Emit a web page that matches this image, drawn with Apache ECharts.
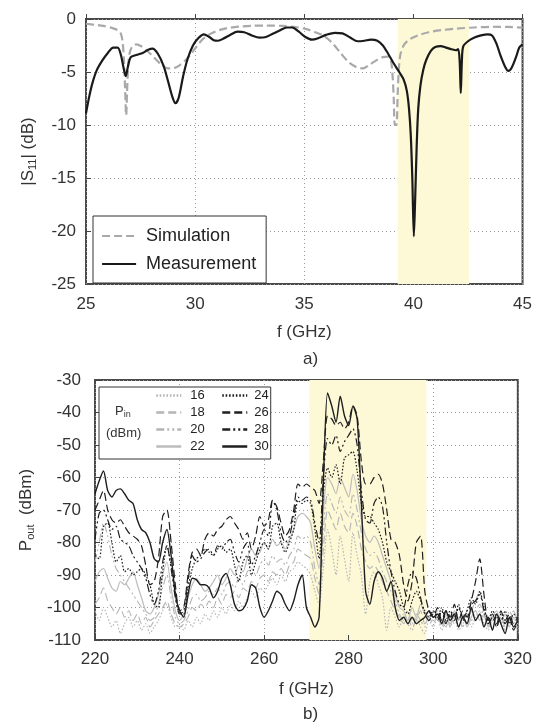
<!DOCTYPE html>
<html><head><meta charset="utf-8">
<script src="https://cdn.jsdelivr.net/npm/echarts@6/dist/echarts.min.js"></script>
<style>html,body{margin:0;padding:0;background:#fff}#c{width:535px;height:724px}</style>
</head><body><div id="c"></div>
<script>
// ---------- (a) |S11| ----------
const measF = [25.0,25.15,25.3,25.5,25.75,26.0,26.25,26.45,26.6,26.72,26.82,26.92,27.05,27.3,27.6,27.85,28.05,28.3,28.55,28.75,28.95,29.1,29.25,29.45,29.65,29.9,30.15,30.4,30.65,30.85,31.05,31.3,31.6,31.95,32.25,32.6,32.95,33.2,33.55,33.9,34.2,34.45,34.75,35.05,35.35,35.65,36.0,36.4,36.75,37.1,37.45,37.75,38.05,38.35,38.6,38.85,39.1,39.35,39.55,39.7,39.8,39.88,39.95,40.02,40.08,40.15,40.22,40.32,40.45,40.6,40.8,41.0,41.25,41.5,41.75,41.95,42.05,42.12,42.17,42.22,42.28,42.5,42.8,43.1,43.4,43.6,43.8,44.0,44.2,44.35,44.5,44.7,44.85,45.0];
const measV = [-8.9,-7.3,-6.0,-4.8,-3.9,-3.2,-2.7,-2.7,-3.4,-4.6,-5.4,-4.5,-3.6,-3.4,-3.2,-2.9,-2.8,-3.3,-4.4,-5.8,-7.3,-7.95,-7.4,-5.4,-3.8,-2.5,-1.8,-1.45,-1.7,-2.0,-2.05,-1.85,-1.5,-1.2,-1.25,-1.55,-1.75,-1.72,-1.4,-1.05,-0.8,-0.8,-1.2,-1.7,-1.95,-1.8,-1.5,-1.3,-1.35,-1.75,-2.1,-2.05,-1.95,-2.05,-2.5,-3.3,-4.2,-5.0,-5.7,-6.8,-8.5,-11,-15,-20.5,-17,-12,-8.5,-6.3,-4.8,-3.8,-3.0,-2.65,-2.55,-2.7,-2.85,-2.95,-2.85,-4.0,-7.0,-4.0,-2.6,-2.1,-1.75,-1.55,-1.45,-1.55,-2.3,-3.5,-4.5,-4.9,-4.6,-3.6,-2.7,-2.4];
const simF = [25.0,25.4,25.8,26.2,26.45,26.6,26.68,26.74,26.79,26.84,26.88,26.93,27.0,27.12,27.3,27.55,27.8,28.1,28.45,28.75,29.0,29.3,29.6,29.85,30.1,30.35,30.7,31.1,31.5,32.0,32.6,33.3,34.0,34.6,35.1,35.5,35.9,36.3,36.7,37.05,37.4,37.7,38.0,38.3,38.6,38.85,38.97,39.05,39.1,39.15,39.22,39.28,39.33,39.4,39.55,39.8,40.2,40.7,41.3,42.0,42.8,43.6,44.3,45.0];
const simV = [-0.45,-0.55,-0.65,-0.85,-1.05,-1.4,-2.2,-4.0,-6.5,-9.1,-7.0,-4.5,-3.2,-2.6,-2.4,-2.6,-3.0,-3.6,-4.3,-4.65,-4.65,-4.35,-3.8,-3.2,-2.5,-1.9,-1.4,-1.05,-0.85,-0.72,-0.64,-0.62,-0.65,-0.76,-0.95,-1.25,-1.6,-2.3,-3.3,-4.1,-4.55,-4.65,-4.3,-3.9,-3.6,-3.55,-3.9,-5.5,-7.6,-10.0,-10.0,-7.0,-4.8,-3.4,-2.5,-1.95,-1.55,-1.25,-1.05,-0.9,-0.8,-0.73,-0.75,-0.82];
const bandA = [39.28, 42.55];

// ---------- (b) Pout ----------
const freqs = [220,221,222,223,224,225,226,227,228,229,230,231,232,233,234,235,236,237,238,239,240,241,242,243,244,245,246,247,248,249,250,251,252,253,254,255,256,257,258,259,260,261,262,263,264,265,266,267,268,269,270,271,272,273,274,275,276,277,278,279,280,281,282,283,284,285,286,287,288,289,290,291,292,293,294,295,296,297,298,299,300,301,302,303,304,305,306,307,308,309,310,311,312,313,314,315,316,317,318,319,320];
const p16 = [-101,-104,-100,-103,-106,-104,-108,-105,-103,-106,
 -104,-107,-105,-108,-106,-104,-101,-99,-103,-106,
 -105,-107,-104,-106,-103,-105,-102,-104,-101,-103,
 -100,-102,-99,-101,-98,-100,-97,-95,-97,-94,
 -95,-93,-91,-93,-90,-92,-89,-88,-86,-87,
 -88,-90,-95,-99,-88,-76,-82,-90,-78,-85,
 -92,-77,-84,-90,-102,-92,-89,-93,-97,-107,
 -100,-103,-106,-102,-105,-107,-103,-106,-108,-104,
 -106,-103,-107,-104,-106,-103,-107,-105,-102,-106,
 -103,-101,-105,-107,-104,-106,-103,-107,-105,-103,-107];
const p18 = [-99,-97,-94,-98,-100,-102,-100,-103,-101,-104,
 -102,-105,-103,-106,-104,-102,-100,-98,-102,-105,
 -106,-105,-103,-100,-101,-99,-100,-98,-100,-97,
 -99,-96,-97,-95,-97,-94,-95,-92,-94,-91,
 -90,-92,-89,-90,-88,-90,-87,-86,-82,-83,
 -84,-85,-91,-96,-82,-70,-73,-76,-71,-75,
 -77,-71,-75,-82,-86,-88,-87,-89,-92,-95,
 -98,-101,-103,-105,-103,-106,-104,-101,-105,-103,
 -105,-102,-106,-103,-105,-102,-106,-103,-105,-101,
 -98,-95,-102,-106,-103,-105,-102,-106,-104,-101,-105];
const p20 = [-86,-80,-74,-78,-84,-88,-90,-92,-94,-96,
 -98,-100,-102,-104,-103,-99,-94,-90,-97,-103,
 -105,-104,-101,-97,-96,-98,-97,-95,-96,-94,
 -96,-93,-92,-94,-91,-93,-89,-88,-90,-87,
 -85,-87,-84,-86,-85,-87,-84,-82,-78,-79,
 -78,-80,-88,-93,-76,-65,-68,-71,-66,-70,
 -72,-65,-70,-77,-82,-84,-83,-85,-89,-92,
 -95,-98,-102,-104,-101,-105,-102,-104,-106,-102,
 -104,-101,-104,-106,-102,-105,-103,-106,-102,-104,
 -101,-99,-103,-105,-102,-106,-103,-105,-101,-104,-106];
const p22 = [-92,-89,-88,-91,-94,-95,-92,-93,-91,-89,
 -93,-97,-101,-102,-100,-96,-90,-86,-94,-101,
 -104,-102,-97,-93,-91,-93,-95,-94,-92,-90,
 -93,-91,-88,-90,-87,-89,-85,-82,-84,-83,
 -80,-82,-79,-81,-80,-82,-79,-76,-72,-71,
 -72,-74,-82,-88,-70,-60,-62,-65,-60,-63,
 -66,-59,-64,-73,-78,-80,-78,-80,-84,-88,
 -92,-96,-100,-101,-104,-100,-103,-99,-102,-104,
 -101,-103,-105,-102,-106,-101,-104,-102,-106,-103,
 -101,-104,-102,-106,-103,-101,-105,-102,-106,-103,-105];
const p24 = [-84,-85,-75,-74,-80,-86,-84,-89,-88,-90,
 -89,-88,-90,-93,-99,-100,-89,-81,-87,-95,
 -102,-102,-94,-88,-85,-84,-82,-83,-84,-82,
 -81,-83,-82,-87,-92,-86,-84,-90,-86,-82,
 -80,-82,-75,-74,-80,-83,-80,-76,-67,-68,
 -67,-68,-76,-85,-65,-57,-60,-56,-62,-54,
 -53,-52,-58,-68,-72,-72,-74,-76,-80,-86,
 -89,-92,-95,-100,-102,-98,-95,-98,-101,-103,
 -101,-103,-100,-104,-101,-103,-99,-104,-101,-97,
 -99,-95,-100,-104,-101,-103,-104,-101,-105,-102,-104];
const p26 = [-70,-67,-64,-70,-73,-74,-73,-75,-77,-78,
 -79,-81,-87,-93,-92,-85,-72,-70,-80,-93,
 -101,-100,-90,-83,-82,-84,-79,-77,-78,-76,
 -75,-73,-72,-74,-76,-79,-77,-82,-78,-72,
 -75,-73,-67,-69,-74,-78,-76,-70,-62,-63,
 -62,-63,-64,-68,-55,-41,-42,-44,-43,-45,
 -43,-38,-41,-55,-62,-62,-60,-59,-62,-70,
 -79,-80,-84,-93,-98,-92,-80,-78,-95,-101,
 -103,-100,-104,-101,-103,-99,-104,-101,-103,-98,
 -92,-85,-96,-104,-102,-105,-101,-104,-102,-105,-103];
const p28 = [-79,-71,-70,-73,-76,-75,-79,-80,-81,-84,
 -86,-88,-91,-96,-99,-95,-86,-81,-88,-97,
 -102,-101,-92,-84,-86,-85,-83,-82,-84,-81,
 -82,-80,-79,-83,-86,-82,-80,-87,-84,-80,
 -76,-78,-67,-70,-77,-80,-78,-72,-66,-67,
 -66,-67,-74,-80,-60,-48,-50,-47,-52,-49,
 -47,-45,-50,-64,-73,-74,-68,-66,-69,-80,
 -89,-95,-99,-100,-93,-89,-91,-97,-102,-104,
 -102,-104,-101,-105,-102,-104,-100,-103,-101,-99,
 -98,-96,-101,-105,-103,-106,-102,-105,-103,-107,-104];
const p30 = [-65,-61,-58,-64,-66,-64,-63.5,-65,-67,-68,
 -73,-76,-77,-80,-85,-86,-80,-76,-84,-96,
 -101,-103,-96,-91,-91.5,-93,-93,-94,-97,-95,
 -91,-89.5,-93,-99,-101,-100.5,-98,-93,-94,-100,
 -103,-101,-98,-95,-96,-99,-101,-98,-93,-90,
 -100,-103,-106,-103,-62,-34,-38,-43,-35,-41,
 -44,-38,-42,-68,-95,-99,-92,-89,-91,-95,
 -92,-100,-104,-103,-105,-103,-105,-104,-103,-101,
 -103,-102,-105,-101,-104,-102,-106,-103,-105,-100,
 -104,-102,-106,-103,-107,-102,-105,-108,-103,-106,-104];
const pinLabels = ['16','18','20','22','24','26','28','30'];
const bandB = [270.7, 298.4];

const FONT = "'Liberation Sans', Arial, Helvetica, sans-serif";
const TXT = '#333';
const GRIDC = '#9a9a9a';
const SHADE = '#fdf8d6';
const LIGHT = '#b4b4b4', DARK = '#1e1e1e';
const DASH = [8,4], DOT = [1.6,1.8], DASHDOT = [8,3,2,3,2,3];
const NOSYM = 'rgba(0,0,0,0)';

const styles = {
  '16': {color: LIGHT, type: DOT, width: 1.1},
  '18': {color: LIGHT, type: DASH, width: 1.1},
  '20': {color: LIGHT, type: DASHDOT, width: 1.1},
  '22': {color: '#bcbcbc', type: 'solid', width: 1.2},
  '24': {color: DARK, type: DOT, width: 1.2},
  '26': {color: DARK, type: DASH, width: 1.2},
  '28': {color: DARK, type: DASHDOT, width: 1.2},
  '30': {color: DARK, type: 'solid', width: 1.4}
};
const pSeries = {'16': p16, '18': p18, '20': p20, '22': p22, '24': p24, '26': p26, '28': p28, '30': p30};

function axisCommon(extra) {
  return Object.assign({
    type: 'value', z: 1,
    axisLine: {show: false},
    axisTick: {show: true, inside: true, length: 5, lineStyle: {color: '#444', width: 1}},
    splitLine: {show: true, lineStyle: {type: [1, 3], color: GRIDC, width: 1}},
    nameLocation: 'middle',
    nameTextStyle: {fontSize: 17, color: TXT, fontFamily: FONT,
      rich: {sub: {fontSize: 11, color: TXT, fontFamily: FONT, padding: [8, 0, 0, 0]}}}
  }, extra);
}
const lbl = (m) => ({margin: m, fontSize: 17, color: TXT, fontFamily: FONT});

const series = [];
series.push({type: 'line', xAxisIndex: 0, yAxisIndex: 0, data: [], z: 0, silent: true,
  markArea: {silent: true, itemStyle: {color: SHADE}, data: [[{xAxis: bandA[0]}, {xAxis: bandA[1]}]]}});
series.push({name: 'Simulation', type: 'line', xAxisIndex: 0, yAxisIndex: 0, symbol: 'none', smooth: 0.3, z: 2,
  lineStyle: {color: '#a9a9a9', width: 2.2, type: DASH}, itemStyle: {color: NOSYM, borderColor: NOSYM},
  data: simF.map((f, i) => [f, simV[i]])});
series.push({name: 'Measurement', type: 'line', xAxisIndex: 0, yAxisIndex: 0, symbol: 'none', smooth: 0.3, z: 3,
  lineStyle: {color: '#1a1a1a', width: 2.2}, itemStyle: {color: NOSYM, borderColor: NOSYM},
  data: measF.map((f, i) => [f, measV[i]])});
series.push({type: 'line', xAxisIndex: 1, yAxisIndex: 1, data: [], z: 0, silent: true,
  markArea: {silent: true, itemStyle: {color: SHADE}, data: [[{xAxis: bandB[0]}, {xAxis: bandB[1]}]]}});
pinLabels.forEach((k, idx) => {
  const s = styles[k];
  series.push({name: k, type: 'line', xAxisIndex: 1, yAxisIndex: 1, symbol: 'none', smooth: 0.25, z: 2 + idx * 0.01,
    lineStyle: {color: s.color, width: s.width, type: s.type}, itemStyle: {color: NOSYM, borderColor: NOSYM},
    data: freqs.map((f, i) => [f, pSeries[k][i]])});
});

const legendSym = {color: NOSYM, borderColor: NOSYM, borderWidth: 0};
const option = {
  animation: false,
  backgroundColor: '#fff',
  textStyle: {fontFamily: FONT},
  title: [
    {text: 'a)', left: 298, top: 346, z: 20, textStyle: {fontSize: 17, fontWeight: 'normal', color: TXT, fontFamily: FONT}},
    {text: 'b)', left: 298, top: 701, z: 20, textStyle: {fontSize: 17, fontWeight: 'normal', color: TXT, fontFamily: FONT}},
    {text: 'P{sub|in}', left: 115, top: 404, padding: 0, z: 20,
      textStyle: {fontSize: 13, fontWeight: 'normal', color: TXT, fontFamily: FONT,
        rich: {sub: {fontSize: 9, color: TXT, fontFamily: FONT, padding: [6, 0, 0, 0]}}}},
    {text: '(dBm)', left: 106, top: 427, padding: 0, z: 20,
      textStyle: {fontSize: 13, fontWeight: 'normal', color: TXT, fontFamily: FONT}}
  ],
  grid: [
    {left: 86, right: 8, top: 19, height: 265, show: true, borderColor: '#4a4a4a', borderWidth: 2, backgroundColor: 'transparent'},
    {left: 95, right: 8, top: 380, height: 260, show: true, borderColor: '#4a4a4a', borderWidth: 2, backgroundColor: 'transparent'}
  ],
  xAxis: [
    axisCommon({gridIndex: 0, min: 25, max: 45, interval: 5, axisLabel: lbl(12), name: 'f (GHz)', nameGap: 40}),
    axisCommon({gridIndex: 1, min: 220, max: 320, interval: 20, axisLabel: lbl(11), name: 'f (GHz)', nameGap: 41})
  ],
  yAxis: [
    axisCommon({gridIndex: 0, min: -25, max: 0, interval: 5, axisLabel: lbl(10), name: '|S{sub|11}| (dB)', nameGap: 48}),
    axisCommon({gridIndex: 1, min: -110, max: -30, interval: 10, axisLabel: lbl(14), name: 'P{sub|out}  (dBm)', nameGap: 57})
  ],
  legend: [
    {data: ['Simulation', 'Measurement'], orient: 'vertical', left: 93, top: 216, itemWidth: 34, itemHeight: 14, itemGap: 10,
      padding: [11, 10, 10, 8], backgroundColor: '#fff', borderColor: '#333', borderWidth: 1, selectedMode: false, z: 10,
      lineStyle: {width: 2.2}, itemStyle: legendSym,
      textStyle: {fontSize: 18, color: '#222', fontFamily: FONT, padding: [0, 0, 0, 5]}},
    {data: ['16', '18', '20', '22'], orient: 'vertical', left: 99, top: 387, itemWidth: 25, itemHeight: 13, itemGap: 4,
      padding: [2, 66, 6, 56], backgroundColor: '#fff', borderColor: '#333', borderWidth: 1, selectedMode: false, z: 10,
      lineStyle: {width: 2.5}, itemStyle: legendSym,
      textStyle: {fontSize: 13, color: '#222', fontFamily: FONT, padding: [0, 0, 0, 4]}},
    {data: ['24', '26', '28', '30'], orient: 'vertical', left: 221, top: 389, itemWidth: 25, itemHeight: 13, itemGap: 4,
      padding: 0, selectedMode: false, z: 11,
      lineStyle: {width: 2.5}, itemStyle: legendSym,
      textStyle: {fontSize: 13, color: '#222', fontFamily: FONT, padding: [0, 0, 0, 2]}}
  ],
  series: series
};
const chart = echarts.init(document.getElementById('c'), null, {renderer: 'canvas'});
chart.setOption(option);
</script></body></html>
